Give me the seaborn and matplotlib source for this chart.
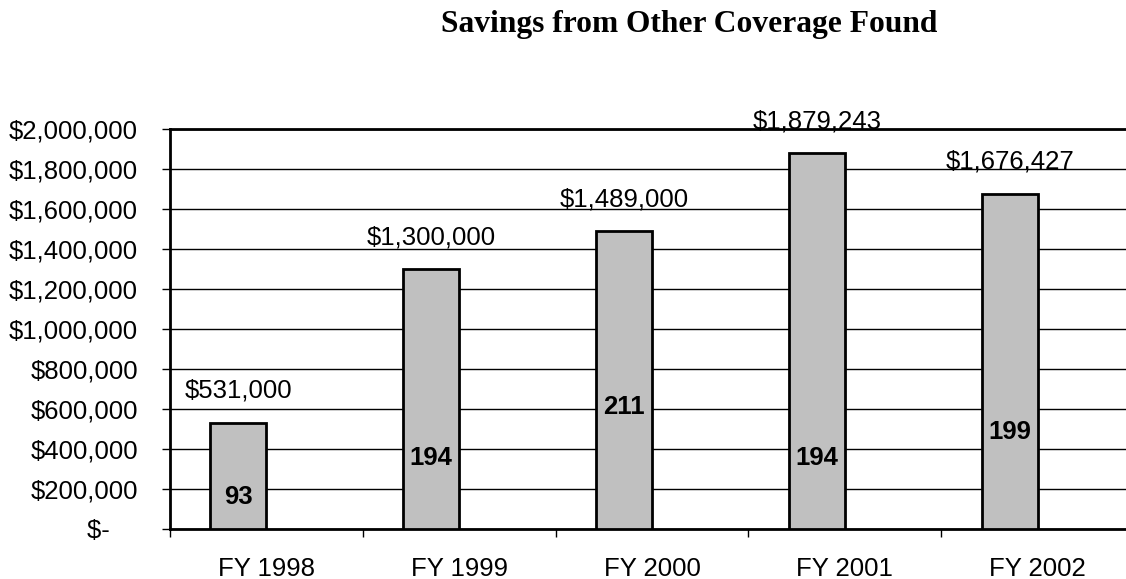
import matplotlib
matplotlib.use("Agg")
import matplotlib.pyplot as plt
import matplotlib.ticker as mticker
import seaborn as sns
import pandas as pd

# ---- data ----
years = ["FY 1998", "FY 1999", "FY 2000", "FY 2001", "FY 2002"]
savings = [531000, 1300000, 1489000, 1879243, 1676427]
counts = [93, 194, 211, 194, 199]
title = "Savings from Other Coverage Found"

# layout for the count labels (vertical placement in data units)
count_label_y = [160000, 355000, 610000, 355000, 485000]

sns.set_style("white")
plt.rcParams["font.family"] = ["Liberation Sans", "DejaVu Sans"]
plt.rcParams["text.color"] = "black"
plt.rcParams["xtick.color"] = "black"
plt.rcParams["ytick.color"] = "black"
plt.rcParams["xtick.labelcolor"] = "black"
plt.rcParams["ytick.labelcolor"] = "black"

df = pd.DataFrame({
    "year": years * 2,
    "value": savings + counts,
    "series": ["Savings"] * len(years) + ["Count"] * len(years),
})

W, H = 1126, 579
fig = plt.figure(figsize=(W / 100, H / 100), dpi=100)
ax = fig.add_axes([170 / W, 50 / H, 964 / W, 400 / H])

sns.barplot(data=df, x="year", y="value", hue="series",
            hue_order=["Savings", "Count"], order=years,
            palette={"Savings": "#C0C0C0", "Count": "#C0C0C0"},
            width=0.58, edgecolor="black", linewidth=2, saturation=1,
            legend=False, ax=ax, zorder=3)

# hide the (invisible in original) count series bars
for p in ax.containers[1]:
    p.set_visible(False)

ax.set_xlim(-0.5, len(years) - 0.5)
ax.set_ylim(0, 2000000)
ax.set_yticks(range(0, 2000001, 200000))

def fmt(v, pos):
    if v == 0:
        return "$-    "
    return "${:,.0f}".format(v)

ax.yaxis.set_major_formatter(mticker.FuncFormatter(fmt))
ax.yaxis.grid(True, color="black", linewidth=1)
ax.set_axisbelow(True)

ax.set_xlabel("")
ax.set_ylabel("")
ax.set_xticks(range(len(years)))
ax.set_xticklabels(years)
ax.set_xticks([i - 0.5 for i in range(len(years) + 1)], minor=True)
ax.tick_params(axis="x", which="major", bottom=True, length=0, pad=20,
               labelsize=18.5, labelcolor="black")
ax.tick_params(axis="x", which="minor", bottom=True, length=6, width=1,
               direction="out", color="black")
ax.tick_params(axis="y", which="major", left=True, length=6, width=1,
               direction="out", color="black", pad=17, labelsize=18.5,
               labelcolor="black")

for side in ["left", "bottom", "top"]:
    ax.spines[side].set_visible(True)
    ax.spines[side].set_linewidth(2)
    ax.spines[side].set_color("black")
ax.spines["right"].set_visible(False)

# value labels above bars
for p, v in zip(ax.containers[0], savings):
    cx = p.get_x() + p.get_width() / 2
    ax.annotate("${:,.0f}".format(v), (cx, v), xytext=(0, 18),
                textcoords="offset points", ha="center", va="baseline",
                fontsize=18.5, color="black", zorder=5, annotation_clip=False)

# count labels inside bars
for p, c, ly in zip(ax.containers[0], counts, count_label_y):
    cx = p.get_x() + p.get_width() / 2
    ax.text(cx, ly, str(c), ha="center", va="center", fontsize=18.5,
            fontweight="bold", color="black", zorder=5)

fig.text(689 / W, 1 - 32 / H, title, ha="center", va="baseline",
         fontfamily=["Liberation Serif", "DejaVu Serif"], fontweight="bold",
         fontsize=22.7, color="black")

fig.savefig("out.png", dpi=100)
